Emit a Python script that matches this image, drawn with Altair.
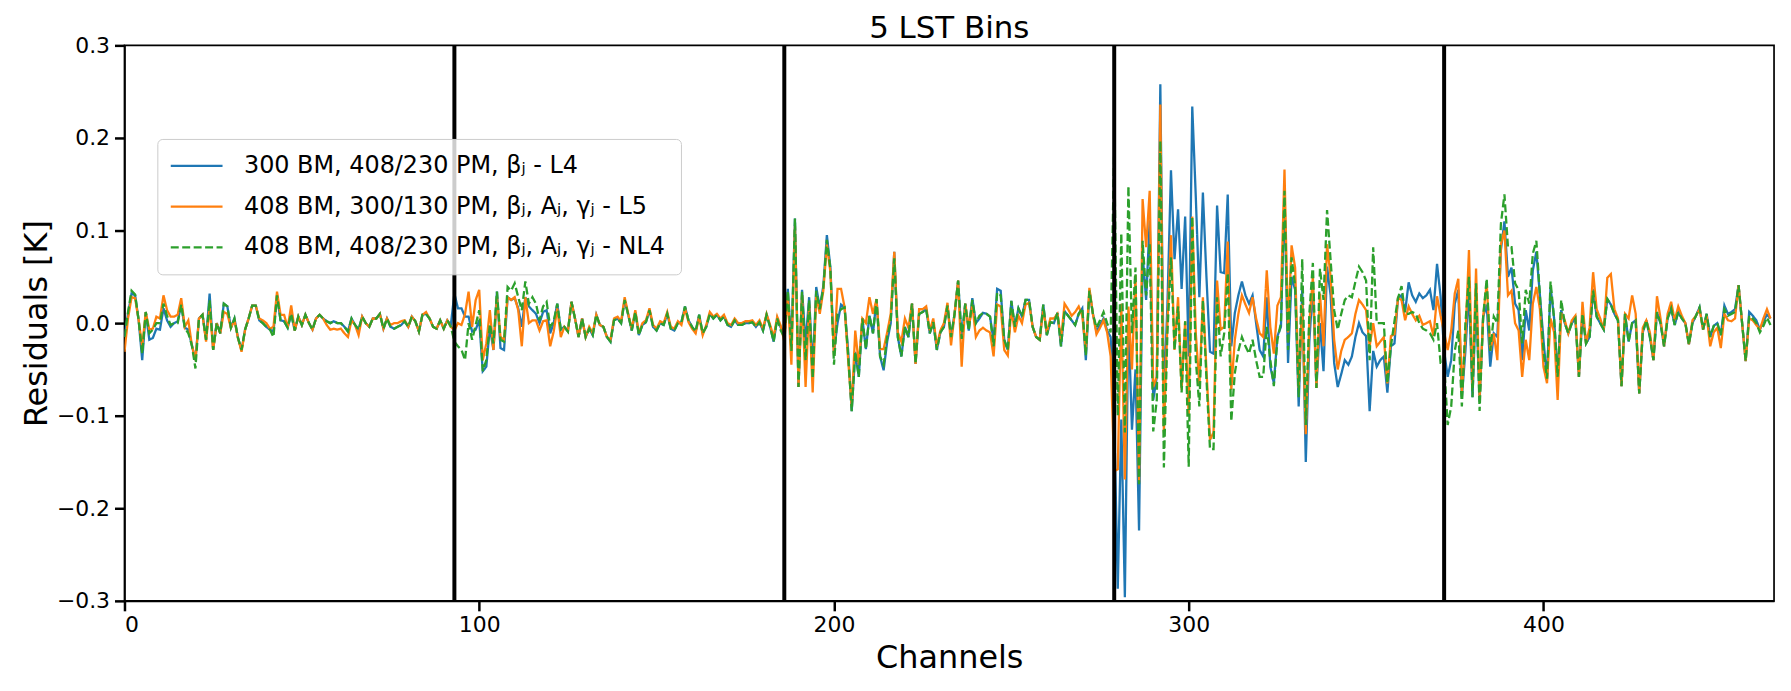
import altair as alt
import pandas as pd

# ---- data (residuals in K), one list per LST bin (93 channels each) ----
title_text = ["5 LST Bins"]
labels = [
    "300 BM, 408/230 PM, βⱼ - L4",
    "408 BM, 300/130 PM, βⱼ, Aⱼ, γⱼ - L5",
    "408 BM, 408/230 PM, βⱼ, Aⱼ, γⱼ - NL4",
]
colors = ["#1f77b4", "#ff7f0e", "#2ca02c"]
bin_edges = [93, 186, 279, 372]
x_ticks = [0, 100, 200, 300, 400]
y_ticks = [-0.3, -0.2, -0.1, 0.0, 0.1, 0.2, 0.3]

blue_bins = [
    [-0.015, 0.010, 0.032, 0.030, 0.003, -0.040, 0.012, -0.018, -0.016, -0.006,
     -0.007, 0.016, 0.003, -0.004, 0.000, 0.002, 0.020, -0.005, -0.007, -0.024,
     -0.040, 0.005, 0.009, -0.018, 0.032, -0.029, 0.000, -0.011, 0.021, 0.018,
     -0.005, 0.005, -0.016, -0.029, -0.007, 0.005, 0.019, 0.019, 0.003, 0.000,
     -0.004, -0.007, -0.009, 0.030, 0.003, 0.002, -0.005, 0.010, -0.008, 0.007,
     -0.002, 0.009, 0.000, -0.007, 0.005, 0.009, 0.005, 0.002, 0.000, 0.002,
     0.000, 0.000, -0.004, -0.009, 0.005, -0.002, -0.007, 0.007, 0.000, -0.004,
     0.005, 0.005, 0.010, -0.006, 0.005, -0.004, -0.006, -0.004, -0.002, 0.002,
     -0.004, 0.007, 0.002, -0.009, 0.009, 0.010, 0.005, -0.004, -0.006, 0.003,
     -0.006, 0.003, -0.002],
    [0.032, 0.016, 0.016, 0.007, 0.007, -0.009, -0.007, 0.003, -0.052, -0.047,
     -0.004, -0.029, 0.034, -0.027, -0.029, 0.028, 0.025, 0.027, 0.016, -0.004,
     0.028, 0.018, 0.014, 0.010, 0.000, 0.012, 0.014, -0.011, 0.000, 0.021,
     -0.007, -0.004, -0.009, 0.023, 0.005, -0.015, 0.005, -0.015, -0.006, -0.013,
     0.009, -0.002, -0.004, -0.015, -0.020, 0.003, 0.005, 0.000, 0.025, 0.009,
     -0.008, 0.012, -0.013, -0.002, 0.001, 0.014, -0.004, -0.008, 0.000, -0.002,
     0.010, -0.006, -0.008, 0.000, 0.001, 0.018, 0.003, -0.004, -0.009, 0.009,
     -0.011, -0.004, 0.010, 0.005, 0.009, 0.003, 0.007, -0.002, -0.004, 0.003,
     -0.002, -0.002, 0.000, 0.000, 0.001, -0.004, 0.001, -0.008, 0.009, -0.004,
     -0.020, 0.005, -0.005],
    [-0.010, 0.037, -0.025, 0.113, -0.069, 0.036, -0.022, 0.028, -0.050, 0.039,
     0.017, 0.040, 0.095, 0.060, -0.031, 0.000, 0.020, 0.017, -0.030, -0.095,
     -0.031, -0.058, 0.005, -0.028, 0.008, -0.011, 0.026, -0.036, -0.051, -0.020,
     0.000, 0.077, -0.015, -0.036, -0.004, -0.015, 0.021, -0.044, 0.010, 0.012,
     0.015, -0.011, 0.001, -0.029, -0.010, -0.004, 0.019, -0.015, 0.010, 0.046,
     -0.017, 0.021, -0.008, 0.027, 0.000, 0.005, 0.011, 0.010, 0.007, -0.020,
     0.037, 0.035, -0.018, -0.029, 0.024, -0.004, 0.016, 0.007, 0.025, 0.025,
     -0.004, -0.015, -0.018, 0.020, -0.013, 0.001, 0.000, 0.011, -0.025, 0.013,
     0.008, 0.003, -0.002, 0.010, 0.016, -0.040, 0.035, 0.010, -0.009, -0.002,
     0.005, -0.008, -0.015],
    [-0.105, -0.287, -0.104, -0.296, 0.007, -0.115, -0.050, -0.224, 0.075, 0.025,
     0.111, -0.083, -0.058, 0.258, -0.083, 0.020, 0.165, 0.069, 0.123, 0.037,
     0.115, -0.036, 0.234, 0.136, 0.028, 0.141, 0.050, -0.031, -0.033, 0.127,
     0.055, 0.054, 0.139, -0.025, 0.011, 0.030, 0.045, 0.030, 0.021, 0.030,
     0.000, -0.029, -0.036, 0.028, -0.047, -0.065, -0.014, -0.004, 0.140, -0.043,
     0.050, 0.036, -0.090, 0.036, -0.150, -0.020, 0.040, -0.070, 0.000, -0.052,
     0.061, 0.030, -0.043, -0.069, -0.055, -0.040, -0.045, -0.036, -0.015, 0.000,
     -0.010, -0.014, -0.095, -0.030, -0.047, -0.040, -0.036, -0.075, -0.025, -0.022,
     0.027, 0.030, 0.012, 0.044, 0.030, 0.023, 0.032, 0.027, 0.030, 0.036,
     0.014, 0.064, 0.029],
    [-0.030, -0.058, -0.040, 0.021, 0.036, -0.080, -0.030, 0.036, -0.080, 0.025,
     -0.085, 0.007, 0.020, -0.047, -0.011, -0.015, 0.079, 0.110, 0.050, 0.060,
     0.021, 0.014, -0.040, 0.014, -0.008, 0.057, 0.077, 0.030, -0.018, -0.060,
     0.039, 0.005, -0.058, 0.014, 0.000, -0.011, 0.000, 0.005, -0.058, 0.010,
     -0.022, -0.015, 0.037, 0.007, 0.000, -0.007, 0.026, 0.020, 0.010, 0.003,
     -0.068, 0.010, -0.020, 0.000, 0.003, -0.076, -0.010, 0.003, -0.015, -0.040,
     0.012, 0.000, -0.025, 0.005, 0.016, -0.002, 0.012, 0.005, 0.000, -0.023,
     0.000, 0.008, 0.017, -0.007, 0.010, -0.015, -0.003, 0.000, -0.013, 0.019,
     0.010, 0.012, 0.015, 0.041, 0.000, -0.041, 0.012, 0.008, 0.003, -0.007,
     0.002, 0.009, 0.005],
]

orange_bins = [
    [-0.031, 0.005, 0.028, 0.027, 0.003, -0.025, 0.012, -0.007, -0.006, 0.007,
     0.005, 0.030, 0.014, 0.007, 0.007, 0.009, 0.027, -0.004, 0.003, -0.024,
     -0.040, 0.005, 0.009, -0.020, 0.018, -0.029, 0.000, -0.011, 0.012, 0.010,
     -0.005, 0.003, -0.016, -0.031, -0.007, 0.005, 0.019, 0.019, 0.005, 0.003,
     0.000, -0.006, -0.004, 0.034, 0.009, 0.009, -0.005, 0.019, -0.008, 0.007,
     -0.002, 0.009, 0.000, -0.007, 0.005, 0.009, 0.005, -0.002, -0.007, -0.006,
     -0.007, -0.006, -0.011, -0.015, 0.003, -0.002, -0.013, 0.007, 0.000, -0.004,
     0.005, 0.005, 0.010, -0.006, 0.005, -0.002, 0.000, 0.000, 0.002, 0.003,
     -0.004, 0.007, 0.002, -0.009, 0.009, 0.012, 0.005, -0.004, -0.006, 0.003,
     -0.006, 0.003, -0.004],
    [-0.008, 0.000, -0.002, 0.010, 0.034, -0.004, 0.025, 0.036, -0.040, -0.022,
     0.014, -0.029, 0.028, -0.015, -0.018, 0.028, 0.025, 0.028, 0.014, -0.025,
     0.028, 0.000, 0.003, 0.003, -0.008, 0.002, 0.003, -0.025, -0.009, 0.016,
     -0.015, -0.004, -0.009, 0.023, 0.005, -0.015, 0.005, -0.015, -0.004, -0.011,
     0.009, -0.002, -0.004, -0.015, -0.018, 0.005, 0.007, 0.002, 0.028, 0.010,
     -0.006, 0.014, -0.011, 0.000, 0.003, 0.016, -0.002, -0.006, 0.002, 0.000,
     0.012, -0.004, -0.006, 0.002, -0.002, 0.016, 0.001, -0.006, -0.011, 0.007,
     -0.013, -0.002, 0.012, 0.007, 0.010, 0.005, 0.009, 0.000, -0.002, 0.005,
     0.000, 0.000, 0.002, 0.002, 0.003, -0.002, 0.003, -0.006, 0.010, -0.002,
     -0.015, 0.007, -0.003],
    [-0.020, 0.030, -0.045, 0.105, -0.069, 0.030, -0.069, 0.020, -0.075, 0.030,
     0.010, 0.035, 0.085, 0.055, -0.035, 0.037, 0.037, 0.017, -0.040, -0.090,
     -0.008, -0.045, 0.005, 0.000, 0.028, 0.010, 0.026, -0.028, -0.028, -0.010,
     0.010, 0.077, -0.010, -0.020, 0.005, -0.005, 0.021, -0.044, 0.015, 0.015,
     0.018, -0.008, 0.005, -0.025, -0.008, 0.000, 0.022, -0.024, 0.010, 0.046,
     -0.047, 0.021, -0.005, 0.020, -0.015, -0.008, -0.005, -0.008, -0.010, -0.036,
     0.020, 0.018, -0.029, -0.035, 0.015, -0.010, 0.008, 0.000, 0.020, 0.022,
     -0.004, -0.015, -0.018, 0.015, -0.010, 0.005, 0.005, 0.010, -0.018, 0.021,
     0.015, 0.008, 0.012, 0.018, 0.008, -0.030, 0.038, 0.010, -0.012, -0.005,
     0.003, -0.010, -0.036],
    [-0.160, -0.158, 0.021, -0.169, 0.018, -0.050, 0.052, -0.172, 0.134, 0.082,
     0.143, -0.069, -0.058, 0.236, -0.118, 0.000, 0.095, -0.029, 0.028, -0.072,
     0.002, -0.100, 0.115, -0.011, -0.068, 0.028, -0.050, -0.126, -0.118, 0.046,
     -0.007, -0.004, 0.088, -0.072, -0.018, 0.010, 0.030, 0.020, 0.011, 0.028,
     0.005, -0.011, -0.015, 0.057, -0.004, -0.033, 0.019, 0.028, 0.166, -0.010,
     0.084, 0.060, -0.070, 0.021, -0.120, 0.000, 0.050, -0.070, 0.032, -0.025,
     0.085, 0.050, -0.018, -0.050, -0.030, -0.018, -0.015, -0.011, 0.010, 0.025,
     0.020, 0.014, -0.025, 0.000, -0.025, -0.020, -0.015, -0.065, -0.014, -0.012,
     0.027, 0.025, 0.003, 0.018, 0.010, 0.003, 0.008, -0.002, 0.000, 0.002,
     -0.014, 0.029, 0.008],
    [-0.010, -0.029, -0.008, 0.032, 0.048, -0.075, -0.015, 0.079, -0.070, 0.059,
     -0.080, 0.007, 0.043, -0.030, -0.011, -0.040, 0.085, 0.100, 0.030, 0.035,
     0.000, -0.008, -0.058, -0.018, -0.040, 0.021, 0.039, 0.015, -0.047, -0.065,
     0.005, -0.010, -0.083, 0.011, 0.003, -0.011, 0.003, 0.008, -0.058, 0.023,
     -0.022, -0.005, 0.055, 0.015, 0.005, -0.007, 0.049, 0.053, 0.015, 0.005,
     -0.068, 0.010, 0.005, 0.030, 0.010, -0.076, -0.005, 0.003, -0.010, -0.040,
     0.029, 0.005, -0.025, 0.010, 0.023, 0.003, 0.018, 0.008, 0.000, -0.023,
     0.003, 0.008, 0.015, -0.007, 0.008, -0.025, -0.010, -0.005, -0.027, 0.010,
     0.003, 0.002, 0.005, 0.041, 0.000, -0.041, 0.005, 0.003, -0.002, -0.007,
     0.005, 0.015, 0.005],
]

green_bins = [
    [-0.015, 0.012, 0.035, 0.031, 0.003, -0.033, 0.012, -0.011, -0.007, 0.000,
     0.000, 0.021, 0.008, -0.002, 0.000, 0.000, 0.020, -0.005, -0.011, -0.024,
     -0.049, 0.005, 0.009, -0.018, 0.025, -0.029, 0.000, -0.011, 0.021, 0.018,
     -0.005, 0.005, -0.016, -0.029, -0.007, 0.005, 0.019, 0.019, 0.003, 0.000,
     -0.004, -0.007, -0.015, 0.030, 0.003, 0.002, -0.005, 0.010, -0.008, 0.007,
     -0.002, 0.009, 0.000, -0.007, 0.005, 0.009, 0.005, 0.002, 0.000, 0.002,
     0.000, 0.000, -0.004, -0.009, 0.005, -0.002, -0.007, 0.007, 0.000, -0.004,
     0.005, 0.005, 0.010, -0.006, 0.005, -0.004, -0.006, -0.004, -0.002, 0.002,
     -0.004, 0.007, 0.002, -0.009, 0.009, 0.010, 0.005, -0.004, -0.006, 0.003,
     -0.006, 0.003, -0.004],
    [-0.020, -0.025, -0.029, -0.040, 0.000, -0.018, -0.002, 0.014, -0.052, -0.040,
     -0.001, -0.022, 0.034, -0.018, -0.020, 0.039, 0.035, 0.043, 0.028, 0.014,
     0.045, 0.021, 0.028, 0.021, 0.003, 0.018, 0.023, -0.004, 0.002, 0.021,
     -0.007, -0.004, -0.009, 0.023, 0.005, -0.015, 0.005, -0.015, -0.006, -0.013,
     0.009, -0.002, -0.004, -0.015, -0.020, 0.003, 0.005, 0.000, 0.025, 0.009,
     -0.008, 0.012, -0.013, -0.002, 0.001, 0.014, -0.004, -0.008, 0.000, -0.002,
     0.010, -0.006, -0.008, 0.000, 0.001, 0.018, 0.003, -0.004, -0.009, 0.009,
     -0.011, -0.004, 0.010, 0.005, 0.009, 0.003, 0.007, -0.002, -0.004, 0.003,
     -0.002, -0.002, 0.000, 0.000, 0.001, -0.004, 0.001, -0.008, 0.009, -0.004,
     -0.020, 0.005, -0.008],
    [-0.015, 0.035, -0.030, 0.113, -0.069, 0.034, -0.040, 0.025, -0.060, 0.035,
     0.015, 0.038, 0.090, 0.058, -0.045, 0.010, 0.015, 0.017, -0.035, -0.095,
     -0.031, -0.058, 0.005, -0.028, 0.008, -0.011, 0.026, -0.036, -0.045, -0.015,
     0.002, 0.070, -0.015, -0.036, -0.004, -0.015, 0.021, -0.044, 0.010, 0.012,
     0.015, -0.011, 0.001, -0.029, -0.010, -0.004, 0.019, -0.015, 0.010, 0.046,
     -0.017, 0.021, -0.008, 0.025, 0.000, 0.008, 0.011, 0.010, 0.007, -0.025,
     0.033, 0.030, -0.018, -0.029, 0.024, -0.004, 0.016, 0.007, 0.025, 0.025,
     -0.004, -0.015, -0.018, 0.020, -0.013, 0.001, 0.000, 0.011, -0.025, 0.013,
     0.008, 0.003, -0.002, 0.010, 0.016, -0.035, 0.035, 0.010, -0.005, 0.003,
     0.012, 0.000, -0.010],
    [0.190, -0.100, 0.097, -0.118, 0.148, -0.011, 0.060, -0.174, 0.089, 0.030,
     0.086, -0.117, -0.083, 0.197, -0.156, -0.010, 0.071, -0.029, 0.018, -0.075,
     0.002, -0.155, 0.115, -0.040, -0.090, 0.025, -0.060, -0.136, -0.136, 0.028,
     -0.036, -0.011, 0.054, -0.106, -0.054, -0.030, -0.015, -0.025, -0.033, -0.018,
     -0.040, -0.058, -0.058, -0.004, -0.040, -0.068, -0.018, 0.000, 0.143, -0.029,
     0.071, 0.040, -0.080, 0.069, -0.110, 0.010, 0.065, -0.070, 0.059, 0.025,
     0.122, 0.068, 0.014, -0.007, 0.010, 0.025, 0.030, 0.028, 0.045, 0.061,
     0.055, 0.046, -0.040, 0.082, 0.000, 0.000, 0.000, -0.065, -0.025, 0.002,
     0.027, 0.040, 0.010, 0.010, 0.012, 0.010, 0.000, -0.006, -0.008, -0.011,
     -0.018, 0.000, -0.043],
    [-0.043, -0.110, -0.090, -0.030, -0.008, -0.090, 0.000, 0.050, -0.080, 0.043,
     -0.095, 0.007, 0.048, -0.030, 0.007, 0.000, 0.107, 0.139, 0.082, 0.082,
     0.043, 0.036, -0.022, 0.036, 0.021, 0.075, 0.089, 0.030, -0.030, -0.060,
     0.045, 0.005, -0.058, 0.025, 0.000, -0.011, 0.000, 0.005, -0.058, 0.010,
     -0.022, -0.015, 0.035, 0.007, 0.000, -0.007, 0.026, 0.020, 0.010, 0.003,
     -0.068, 0.010, -0.020, 0.000, 0.003, -0.076, -0.010, 0.003, -0.015, -0.040,
     0.012, 0.000, -0.025, 0.005, 0.016, -0.002, 0.012, 0.005, 0.000, -0.023,
     0.000, 0.008, 0.017, -0.007, 0.010, -0.015, -0.003, 0.000, -0.013, 0.015,
     0.008, 0.010, 0.012, 0.041, 0.000, -0.041, 0.008, 0.005, 0.000, -0.010,
     -0.003, 0.006, -0.002],
]

# ---- build long table ----
rows = []
for label, bins in zip(labels, [blue_bins, orange_bins, green_bins]):
    for b, vals in enumerate(bins):
        start = 93 * b
        for i, v in enumerate(vals):
            rows.append({"channel": start + i, "residual": v, "model": label})
df = pd.DataFrame(rows)
edges_df = pd.DataFrame({"edge": bin_edges})
title_df = pd.DataFrame({"t": title_text})

FONT = "DejaVu Sans"
W, H = 1657, 558

lines = alt.Chart(df).mark_line(strokeWidth=2.3, clip=True).encode(
    x=alt.X("channel:Q",
            scale=alt.Scale(domain=[0, 465], nice=False, zero=False),
            axis=alt.Axis(values=x_ticks, title="Channels", format="d")),
    y=alt.Y("residual:Q",
            scale=alt.Scale(domain=[-0.3, 0.3], nice=False, zero=False),
            axis=alt.Axis(values=y_ticks, title="Residuals [K]",
                          labelExpr="replace(format(datum.value, '.1f'), '-', '\u2212')")),
    color=alt.Color("model:N",
                    scale=alt.Scale(domain=labels, range=colors),
                    legend=alt.Legend(title=None, orient="none", legendX=33, legendY=94,
                                      symbolType="M-1.35,0H3.85", symbolSize=400,
                                      symbolStrokeWidth=2.3, labelFontSize=24,
                                      labelFont=FONT, labelColor="black",
                                      labelOffset=48, rowPadding=17, padding=15,
                                      strokeColor="#cccccc", fillColor="rgba(255,255,255,0.8)",
                                      cornerRadius=5, labelLimit=700)),
    strokeDash=alt.StrokeDash("model:N",
                              scale=alt.Scale(domain=labels, range=[[1, 0], [1, 0], [8, 3.5]]),
                              legend=alt.Legend(title=None, orient="none", legendX=33, legendY=94)),
    order=alt.Order("channel:Q"),
)

rules = alt.Chart(edges_df).mark_rule(color="black", strokeWidth=4).encode(
    x=alt.X("edge:Q")
)

title = alt.Chart(title_df).mark_text(
    font=FONT, fontSize=31, color="black", align="center", baseline="alphabetic"
).encode(
    text="t:N",
    x=alt.value(W / 2),
    y=alt.value(-7),
)

chart = alt.layer(lines, rules, title).properties(
    width=W,
    height=H,
    autosize=alt.AutoSizeParams(type="none"),
    padding={"left": 117, "top": 36, "right": 9, "bottom": 89},
).configure(
    font=FONT,
).configure_view(
    stroke="black", strokeWidth=1.7
).configure_axis(
    grid=False,
    domainColor="black", domainWidth=1.7,
    tickColor="black", tickSize=10, tickWidth=2.5,
    labelFontSize=22, labelFont=FONT, labelColor="black",
    titleFontSize=32, titleFont=FONT, titleFontWeight="normal", titleColor="black",
).configure_axisX(
    labelPadding=4, titlePadding=7
).configure_axisY(
    labelPadding=5, titlePadding=3
)

chart.save("out.html", embed_options={"renderer": "svg", "actions": False})
